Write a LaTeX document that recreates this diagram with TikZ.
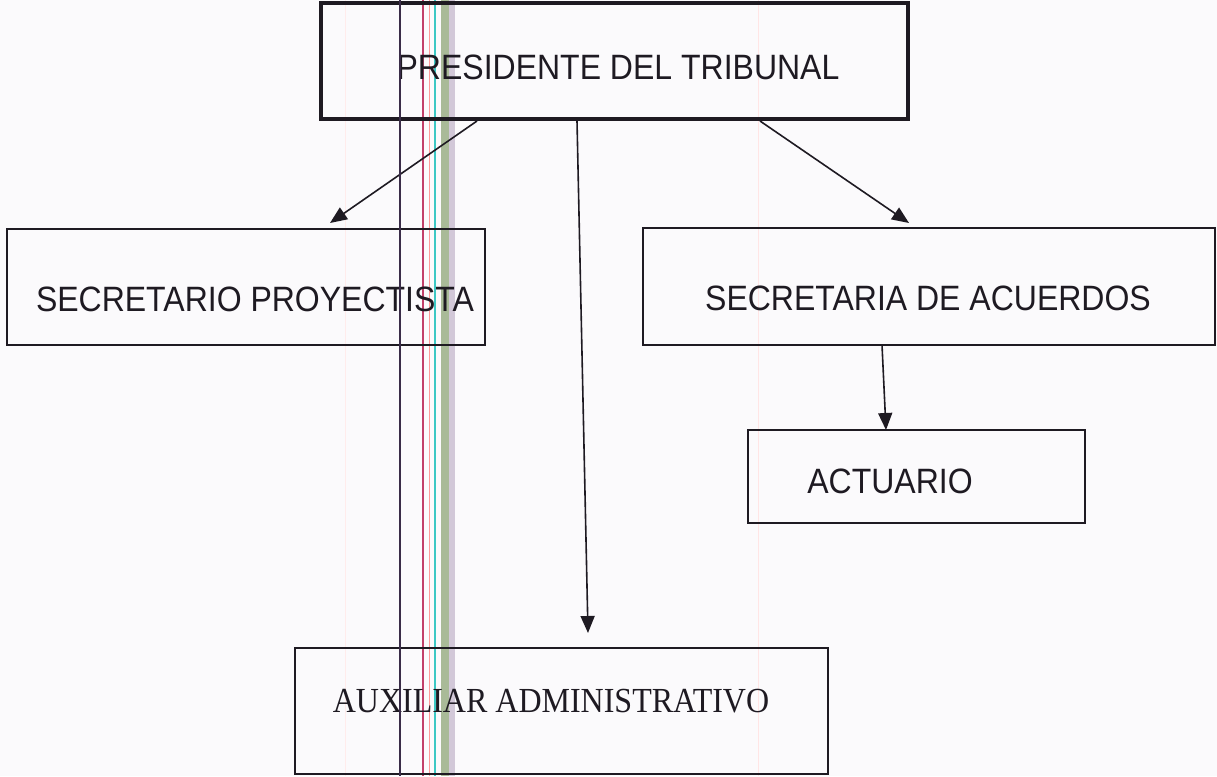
\documentclass[tikz,border=0pt]{standalone}
\usepackage{fontspec}
\setmainfont{Liberation Serif}
\newfontfamily\arialfont{Liberation Sans}
\usetikzlibrary{arrows.meta}
\definecolor{inkc}{HTML}{1E1A22}
\definecolor{scanline}{HTML}{3A2C48}
\definecolor{paper}{HTML}{FBFAFC}
\definecolor{olivestripe}{HTML}{A9BA98}
\definecolor{lavstripe}{HTML}{D2C8D8}
\definecolor{cyanstripe}{HTML}{3CC8C4}
\definecolor{redstripe}{HTML}{C2406A}
\newcommand{\talltext}[1]{\scalebox{1}[1.1]{#1}}
\tikzset{
  orgbox/.style={draw=inkc, line width=1.7pt, inner sep=0pt},
  headbox/.style={orgbox, line width=4pt},
  lbl/.style={inner sep=0pt, text=inkc, font=\arialfont\fontsize{32}{38}\selectfont},
  serlbl/.style={inner sep=0pt, text=inkc, font=\fontsize{32}{38}\selectfont},
  conn/.style={draw=inkc, line width=1.6pt, -{Triangle[length=17pt,width=14pt]}},
}
\begin{document}
\begin{tikzpicture}[x=1pt,y=-1pt]
\useasboundingbox (0,0) rectangle (1217,776);
\fill[paper] (0,0) rectangle (1217,776);
% scan artefacts
\draw[line width=0.8pt, pink!40] (758,0) -- (758,776);
\draw[line width=0.8pt, pink!30] (345,0) -- (345,776);
\fill[lavstripe] (449,0) rectangle (455,776);
\fill[olivestripe] (441,0) rectangle (449,776);
\draw[line width=2pt, cyanstripe] (435,0) -- (435,776);
\draw[line width=1.5pt, redstripe] (423,0) -- (423,776);
\draw[line width=1pt, red!40] (429,0) -- (429,776);

% boxes
\node[headbox, minimum width=587pt, minimum height=116pt] (pres) at (614.5,61) {};
\node[lbl] (presT) at (618,67) {\talltext{PRESIDENTE DEL TRIBUNAL}};

\node[orgbox, minimum width=478pt, minimum height=116pt] (proy) at (246,287) {};
\node[lbl] (proyT) at (255,299) {\talltext{SECRETARIO PROYECTISTA}};

\node[orgbox, minimum width=572pt, minimum height=117pt] (acue) at (929,286.5) {};
\node[lbl] (acueT) at (928,298) {\talltext{SECRETARIA DE ACUERDOS}};

\node[orgbox, minimum width=337pt, minimum height=93pt] (actu) at (916.5,476.5) {};
\node[lbl] (actuT) at (890,481) {\talltext{ACTUARIO}};

\node[orgbox, minimum width=533pt, minimum height=126pt] (auxi) at (561.5,711) {};
\node[serlbl] (auxiT) at (551,701) {\talltext{AUXILIAR ADMINISTRATIVO}};

% connectors
\coordinate (p1) at (477,121);
\coordinate (p2) at (577,121);
\coordinate (p3) at (760,121);
\coordinate (a1) at (882,345);
\coordinate (t1) at (330,223);
\coordinate (t2) at (588,633);
\coordinate (t3) at (909,223);
\coordinate (t4) at (886,430);
\draw[conn] (p1) -- (t1);
\draw[conn] (p2) -- (t2);
\draw[conn] (p3) -- (t3);
\draw[conn] (a1) -- (t4);

% dark scan line on top
\draw[line width=1.6pt, scanline] (400,0) -- (400,776);
\end{tikzpicture}
\end{document}
